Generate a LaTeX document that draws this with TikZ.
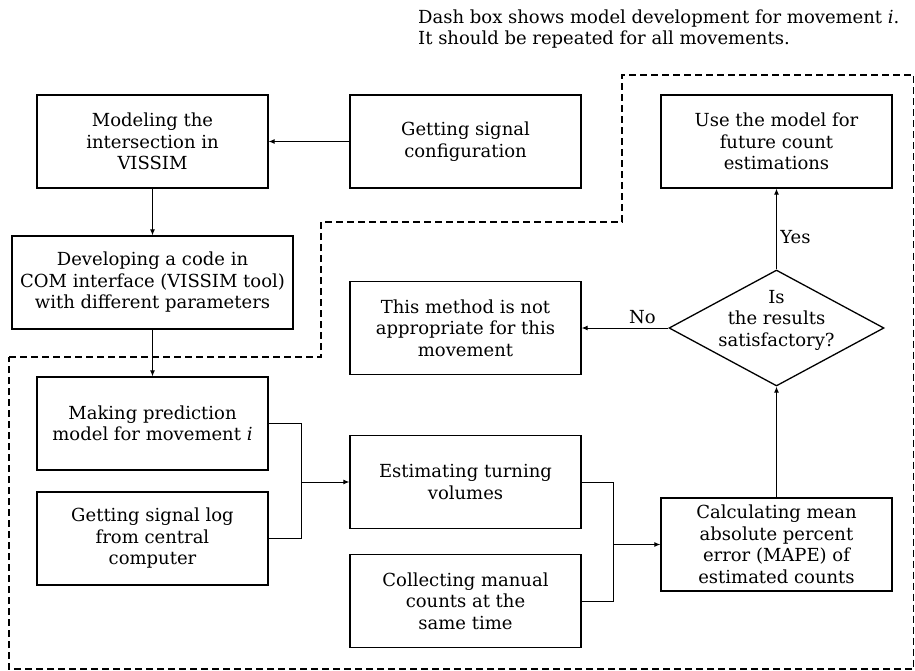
\documentclass[tikz,border=0pt]{standalone}
\usepackage{fontspec}
\setmainfont{DejaVu Serif}
\usetikzlibrary{calc}
\usetikzlibrary{arrows.meta}
\usetikzlibrary{shapes.geometric,positioning}

\begin{document}
\begin{tikzpicture}[
  x=1pt, y=-1pt,
  box/.style={
    rectangle, draw, line width=1.3pt,
    minimum width=231pt, minimum height=93pt,
    align=center, inner sep=2pt,
    font=\fontsize{18}{21.5}\selectfont},
  dec/.style={
    diamond, draw, line width=1.3pt,
    minimum width=215pt, minimum height=116pt, inner sep=0pt},
  arr/.style={-{Latex[length=6pt,width=5pt]}, line width=1pt},
  lbl/.style={font=\fontsize{18}{21.5}\selectfont},
  dashbox/.style={dashed, dash pattern=on 7pt off 4pt, line width=1.3pt},
]
  \useasboundingbox (0,0) rectangle (915,671);

  % ── Note above the dash box ─────────────────────────────────────────────
  \node[lbl, anchor=north west, align=left, inner sep=0pt] (note) at (418,9.5)
      {Dash box shows model development for movement \textit{i}.\\
       It should be repeated for all movements.};

  % ── Boxes outside the dash box ──────────────────────────────────────────
  \node[box] (model)   at (152.5,141.5) {Modeling the\\intersection in\\VISSIM};
  \node[box] (sigcfg)  at (465.5,141.5) {Getting signal\\configuration};
  \node[box, minimum width=281pt] (devcode) at (152.5,282.5)
      {Developing a code in\\COM interface (VISSIM tool)\\with different parameters};

  % ── Boxes inside the dash box ───────────────────────────────────────────
  \node[box] (usemod)  at (776.5,141.5) {Use the model for\\future count\\estimations};
  \node[box] (notapp)  at (465.5,328)   {This method is not\\appropriate for this\\movement};
  \node[dec, label={[lbl, align=center, yshift=8pt]center:Is\\the results\\satisfactory?}]
       (decide) at (776.5,328) {};
  \node[box] (mkpred)  at (152.5,423.5) {Making prediction\\model for movement \textit{i}};
  \node[box] (siglog)  at (152.5,538.5) {Getting signal log\\from central\\computer};
  \node[box] (estvol)  at (465.5,482)   {Estimating turning\\volumes};
  \node[box] (collect) at (465.5,601)   {Collecting manual\\counts at the\\same time};
  \node[box] (calcmape) at (776.5,544.5)
      {Calculating mean\\absolute percent\\error (MAPE) of\\estimated counts};

  % ── Dash box ────────────────────────────────────────────────────────────
  \draw[dashbox] (9,357) -- (321,357) -- (321,222) -- (622,222)
      -- (622,75) -- (913.5,75) -- (913.5,669) -- (9,669) -- cycle;

  % ── Top part ────────────────────────────────────────────────────────────
  \draw[arr] (sigcfg) -- (model);
  \draw[arr] (model) -- (devcode);
  \draw[arr] (devcode) -- (mkpred);

  % ── Merging inputs ──────────────────────────────────────────────────────
  \coordinate (bend1) at ($(mkpred.east)+(33,0)$);
  \coordinate (join1) at (bend1 |- estvol.west);
  \draw[line width=1pt] (mkpred.east) -| (join1) |- (siglog.east);
  \draw[arr] (join1) -- (estvol.west);

  \coordinate (bend2) at ($(estvol.east)+(32,0)$);
  \coordinate (join2) at (bend2 |- calcmape.west);
  \draw[line width=1pt] (estvol.east) -| (join2) |- (collect.east);
  \draw[arr] (join2) -- (calcmape.west);

  % ── Decision ────────────────────────────────────────────────────────────
  \draw[arr] (calcmape) -- (decide);
  \draw[arr] (decide) -- node[lbl, right, pos=0.4]{Yes} (usemod);
  \draw[arr] (decide) -- node[lbl, above, pos=0.3]{No} (notapp);

\end{tikzpicture}
\end{document}
